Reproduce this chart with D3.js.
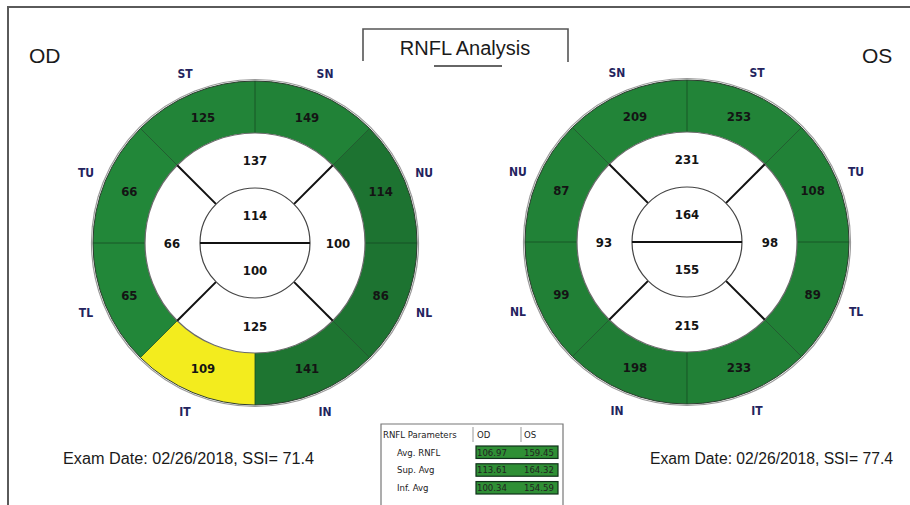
<!DOCTYPE html>
<html>
<head>
<meta charset="utf-8">
<script src="https://cdn.jsdelivr.net/npm/d3@7"></script>
<style>
  body { margin: 0; background: #fff; }
  svg { display: block; }
  .val { font-family: "DejaVu Sans Condensed", "DejaVu Sans", sans-serif; font-weight: bold; font-size: 13px; fill: #141414; }
  .lab { font-family: "DejaVu Sans Condensed", "DejaVu Sans", sans-serif; font-weight: bold; font-size: 12px; fill: #23235e; }
  .big { font-family: "Liberation Sans", Arial, sans-serif; fill: #1a1a1a; }
  .tbl { font-family: "DejaVu Sans Condensed", "DejaVu Sans", sans-serif; font-size: 9.5px; fill: #222; }
</style>
</head>
<body>
<svg id="chart" width="910" height="505"></svg>
<script>
// sectors listed clockwise from 12 o'clock
const sectorNamesOD = ["SN", "NU", "NL", "IN", "IT", "TL", "TU", "ST"];
const sectorValuesOD = [149, 114, 86, 141, 109, 65, 66, 125];
const sectorStatusOD = ["normal", "normal", "normal", "normal", "borderline", "normal", "normal", "normal"];
const quadrantValuesOD = [137, 100, 125, 66]; // top, right, bottom, left
const hemiValuesOD = [114, 100]; // superior, inferior

const sectorNamesOS = ["ST", "TU", "TL", "IT", "IN", "NL", "NU", "SN"];
const sectorValuesOS = [253, 108, 89, 233, 198, 99, 87, 209];
const sectorStatusOS = ["normal", "normal", "normal", "normal", "normal", "normal", "normal", "normal"];
const quadrantValuesOS = [231, 98, 215, 93];
const hemiValuesOS = [164, 155];

const examLabels = ["Exam Date: 02/26/2018, SSI= 71.4", "Exam Date: 02/26/2018, SSI= 77.4"];

const tableColumns = ["RNFL Parameters", "OD", "OS"];
const tableRows = ["Avg. RNFL", "Sup. Avg", "Inf. Avg"];
const tableOD = ["106.97", "113.61", "100.34"];
const tableOS = ["159.45", "164.32", "154.59"];

const svg = d3.select("#chart");

const R_OUT = 162, R_RING = 110, R_CORE = 55;
const statusColor = d3.scaleOrdinal().domain(["normal", "borderline"]).range(["#23893a", "#f3ec1e"]);
const angle = d3.scaleLinear().domain([0, 8]).range([0, 2 * Math.PI]);

// page frame (cropped: only top and left edges visible)
svg.append("path").attr("d", "M8,505V7H910").attr("fill", "none").attr("stroke", "#5a5a5a").attr("stroke-width", 2);

// title box
svg.append("path").attr("d", "M363,61V29H568V62").attr("fill", "none").attr("stroke", "#555").attr("stroke-width", 1.6);
svg.append("text").attr("class", "big").attr("x", 465).attr("y", 55).attr("text-anchor", "middle")
  .attr("font-size", 20).text("RNFL Analysis");
svg.append("line").attr("x1", 434).attr("x2", 502).attr("y1", 66).attr("y2", 66).attr("stroke", "#666").attr("stroke-width", 2);

svg.append("text").attr("class", "big").attr("x", 29).attr("y", 63).attr("font-size", 21).text("OD");
svg.append("text").attr("class", "big").attr("x", 862).attr("y", 63).attr("font-size", 21).text("OS");

function drawEye(cx, cy, names, values, status, quads, hemis, shade) {
  const g = svg.append("g").attr("transform", `translate(${cx},${cy})`);
  const arc = d3.arc().innerRadius(R_RING).outerRadius(R_OUT)
    .startAngle((d, i) => angle(i)).endAngle((d, i) => angle(i + 1));
  const mid = (i, r) => {
    const a = (angle(i) + angle(i + 1)) / 2;
    return [Math.sin(a) * r, -Math.cos(a) * r];
  };

  g.selectAll("path.sector").data(values).join("path").attr("class", "sector")
    .attr("d", arc)
    .attr("fill", (d, i) => status[i] === "normal" ? d3.color(statusColor("normal")).darker(shade[i]) : statusColor(status[i]));

  // sector dividers
  g.selectAll("line.div").data(d3.range(8)).join("line").attr("class", "div")
    .attr("x1", i => Math.sin(angle(i)) * R_RING).attr("y1", i => -Math.cos(angle(i)) * R_RING)
    .attr("x2", i => Math.sin(angle(i)) * R_OUT).attr("y2", i => -Math.cos(angle(i)) * R_OUT)
    .attr("stroke", "#174d24").attr("stroke-width", 1).attr("opacity", 0.8);

  // ring outlines
  g.append("circle").attr("r", R_OUT + 1.5).attr("fill", "none").attr("stroke", "#9a9a9a").attr("stroke-width", 1.2);
  g.append("circle").attr("r", R_OUT).attr("fill", "none").attr("stroke", "#2d3d30").attr("stroke-width", 1);
  g.append("circle").attr("r", R_RING).attr("fill", "#fff").attr("stroke", "#6a6a6a").attr("stroke-width", 1.2);

  // quadrant dividers
  g.selectAll("line.q").data([1, 3, 5, 7]).join("line").attr("class", "q")
    .attr("x1", i => Math.sin(angle(i)) * R_CORE).attr("y1", i => -Math.cos(angle(i)) * R_CORE)
    .attr("x2", i => Math.sin(angle(i)) * R_RING).attr("y2", i => -Math.cos(angle(i)) * R_RING)
    .attr("stroke", "#111").attr("stroke-width", 2);

  g.append("circle").attr("r", R_CORE).attr("fill", "#fff").attr("stroke", "#444").attr("stroke-width", 1.2);
  g.append("line").attr("x1", -R_CORE).attr("x2", R_CORE).attr("stroke", "#111").attr("stroke-width", 2);

  // values
  g.selectAll("text.sv").data(values).join("text").attr("class", "val sv")
    .attr("x", (d, i) => mid(i, 136)[0]).attr("y", (d, i) => mid(i, 136)[1])
    .attr("text-anchor", "middle").attr("dy", "0.35em").text(d => d);
  g.selectAll("text.sl").data(names).join("text").attr("class", "lab sl")
    .attr("x", (d, i) => mid(i, 183)[0]).attr("y", (d, i) => mid(i, 183)[1])
    .attr("text-anchor", "middle").attr("dy", "0.35em").text(d => d);
  g.selectAll("text.qv").data(quads).join("text").attr("class", "val qv")
    .attr("x", (d, i) => Math.sin(angle(2 * i)) * 83).attr("y", (d, i) => -Math.cos(angle(2 * i)) * 83)
    .attr("text-anchor", "middle").attr("dy", "0.35em").text(d => d);
  g.selectAll("text.hv").data(hemis).join("text").attr("class", "val hv")
    .attr("x", 0).attr("y", (d, i) => i === 0 ? -28 : 27)
    .attr("text-anchor", "middle").attr("dy", "0.35em").text(d => d);
}

drawEye(255, 243, sectorNamesOD, sectorValuesOD, sectorStatusOD, quadrantValuesOD, hemiValuesOD,
  [0.15, 0.5, 0.5, 0.45, 0, 0.05, 0.05, 0.1]);
drawEye(687, 242, sectorNamesOS, sectorValuesOS, sectorStatusOS, quadrantValuesOS, hemiValuesOS,
  [0.1, 0.15, 0.2, 0.2, 0.25, 0.2, 0.15, 0.1]);

// exam info
svg.selectAll("text.exam").data(examLabels).join("text").attr("class", "big exam")
  .attr("x", (d, i) => i === 0 ? 63 : 650).attr("y", 464).attr("font-size", 16)
  .attr("textLength", (d, i) => i === 0 ? 251 : 243).attr("lengthAdjust", "spacingAndGlyphs").text(d => d);

// parameter table
const tb = svg.append("g");
tb.append("path").attr("d", "M381,505V424H563V505").attr("fill", "none").attr("stroke", "#777").attr("stroke-width", 1.2);
const colX = d3.scaleOrdinal().domain(tableColumns).range([383, 477, 524]);
tb.selectAll("text.hd").data(tableColumns).join("text").attr("class", "tbl hd")
  .attr("x", d => colX(d)).attr("y", 438).text(d => d);
tb.selectAll("line.sep").data([473, 521]).join("line").attr("class", "sep")
  .attr("x1", d => d).attr("x2", d => d).attr("y1", 427).attr("y2", 442).attr("stroke", "#999");
const rowY = d3.scaleBand().domain(tableRows).range([446, 494]).paddingInner(0.3);
tb.selectAll("rect.cell").data(tableRows).join("rect").attr("class", "cell")
  .attr("x", 476).attr("width", 82).attr("y", d => rowY(d)).attr("height", rowY.bandwidth())
  .attr("fill", "#2f8f35").attr("stroke", "#10301a").attr("stroke-width", 1.2);
tb.selectAll("text.rl").data(tableRows).join("text").attr("class", "tbl rl")
  .attr("x", 397).attr("y", d => rowY(d) + rowY.bandwidth() / 2).attr("dy", "0.35em").text(d => d);
tb.selectAll("text.od").data(tableOD).join("text").attr("class", "tbl od")
  .attr("x", colX("OD")).attr("y", (d, i) => rowY(tableRows[i]) + rowY.bandwidth() / 2).attr("dy", "0.35em")
  .attr("fill", "#0d2a10").text(d => d);
tb.selectAll("text.os").data(tableOS).join("text").attr("class", "tbl os")
  .attr("x", colX("OS")).attr("y", (d, i) => rowY(tableRows[i]) + rowY.bandwidth() / 2).attr("dy", "0.35em")
  .attr("fill", "#0d2a10").text(d => d);
</script>
</body>
</html>
